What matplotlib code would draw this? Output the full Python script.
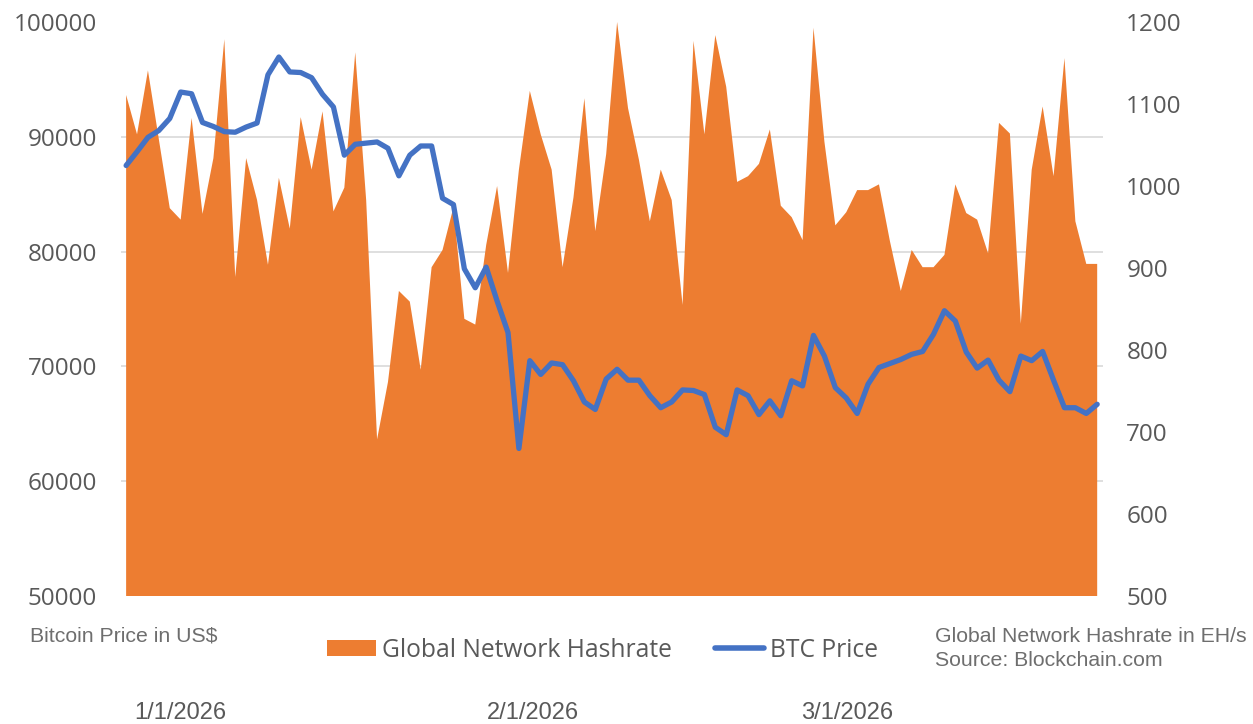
import numpy as np
import matplotlib
matplotlib.use("Agg")
import matplotlib.pyplot as plt
from matplotlib.patches import Patch
from matplotlib.lines import Line2D
from matplotlib.ticker import FixedLocator

# daily values, Dec 27 2025 .. Mar 26 2026
hashrate = [1111, 1063, 1141, 1057, 973, 959, 1083, 966, 1034, 1179,
            889, 1034, 983, 904, 1010, 948, 1084, 1020, 1091, 969,
            998, 1163, 983, 691, 761, 872, 859, 776, 901, 922,
            974, 838, 831, 928, 1000, 894, 1020, 1116, 1063, 1020,
            901, 986, 1107, 945, 1039, 1200, 1095, 1032, 957, 1020,
            983, 855, 1177, 1063, 1184, 1121, 1005, 1012, 1027, 1069,
            976, 962, 934, 1193, 1054, 952, 968, 995, 995, 1002,
            933, 872, 922, 901, 901, 916, 1002, 967, 959, 918,
            1077, 1064, 832, 1020, 1097, 1012, 1156, 957, 905, 905]

btc_price = [87500, 88700, 89950, 90550, 91600, 93900, 93750, 91250, 90900, 90450,
             90400, 90850, 91200, 95400, 96950, 95650, 95600, 95150, 93700, 92600,
             88400, 89350, 89450, 89550, 89000, 86600, 88400, 89200, 89200, 84650,
             84100, 78500, 76850, 78650, 75700, 72950, 62850, 70500, 69300, 70300,
             70150, 68750, 66900, 66250, 68900, 69750, 68800, 68800, 67450, 66400,
             66900, 67950, 67900, 67550, 64700, 64050, 67950, 67450, 65800, 67000,
             65700, 68750, 68300, 72700, 70900, 68150, 67250, 65900, 68450, 69900,
             70250, 70600, 71050, 71300, 72800, 74850, 73950, 71250, 69850, 70550,
             68800, 67800, 70900, 70500, 71300, 68800, 66400, 66400, 65900, 66700]

date_labels = ["1/1/2026", "2/1/2026", "3/1/2026"]
date_pos = [5.0, 37.3, 66.1]

orange = "#ED7D31"
blue = "#4472C4"
grey = "#595959"

plt.rcParams["font.family"] = ["Open Sans", "DejaVu Sans"]

x = np.arange(len(hashrate))

fig = plt.figure(figsize=(12.53, 7.24), dpi=100)
ax_h = fig.add_axes([0.0963, 0.1768, 0.7837, 0.7928])
ax_p = ax_h.twinx()

# hashrate area (right axis)
ax_h.fill_between(x, 0, hashrate, color=orange, linewidth=0, zorder=2)
ax_h.set_ylim(500, 1200)
ax_h.set_yticks(range(500, 1201, 100))
ax_h.yaxis.tick_right()
ax_h.set_xlim(-0.5, len(x) - 0.5)

# gridlines follow the price axis (6 lines)
ax_h.yaxis.set_minor_locator(FixedLocator(np.linspace(500, 1200, 6)))
ax_h.grid(True, which="minor", axis="y", color="#D9D9D9", linewidth=1.2, zorder=0)
ax_h.set_axisbelow(True)

# btc price line (left axis)
ax_p.plot(x, btc_price, color=blue, linewidth=3.8, solid_capstyle="round",
          solid_joinstyle="round")
ax_p.set_ylim(50000, 100000)
ax_p.set_yticks(range(50000, 100001, 10000))
ax_p.yaxis.tick_left()

for a in (ax_h, ax_p):
    for s in a.spines.values():
        s.set_visible(False)
    a.tick_params(axis="y", which="both", length=0, labelsize=17.5,
                  labelcolor=grey, pad=17)

ax_h.set_xticks(date_pos)
ax_h.set_xticklabels(date_labels, fontfamily="Liberation Sans")
ax_h.tick_params(axis="x", length=0, labelsize=17, labelcolor=grey, pad=76)

handles = [Patch(facecolor=orange, edgecolor="none"),
           Line2D([0], [0], color=blue, linewidth=4, solid_capstyle="round")]
fig.legend(handles, ["Global Network Hashrate", "BTC Price"], ncol=2,
           loc="center", bbox_to_anchor=(0.481, 0.102), frameon=False,
           fontsize=17.7, labelcolor=grey, handlelength=2.0, handleheight=0.6,
           handletextpad=0.25, columnspacing=1.75)

fig.text(30 / 1253, 1 - 636 / 724, "Bitcoin Price in US$", ha="left", va="center",
         fontsize=15.3, color="#6E6E6E", fontfamily="Liberation Sans")
fig.text(935 / 1253, 1 - 636 / 724, "Global Network Hashrate in EH/s", ha="left",
         va="center", fontsize=15.3, color="#6E6E6E", fontfamily="Liberation Sans")
fig.text(935 / 1253, 1 - 661 / 724, "Source: Blockchain.com", ha="left",
         va="center", fontsize=15.3, color="#6E6E6E", fontfamily="Liberation Sans")

fig.savefig("out.png", dpi=100)
